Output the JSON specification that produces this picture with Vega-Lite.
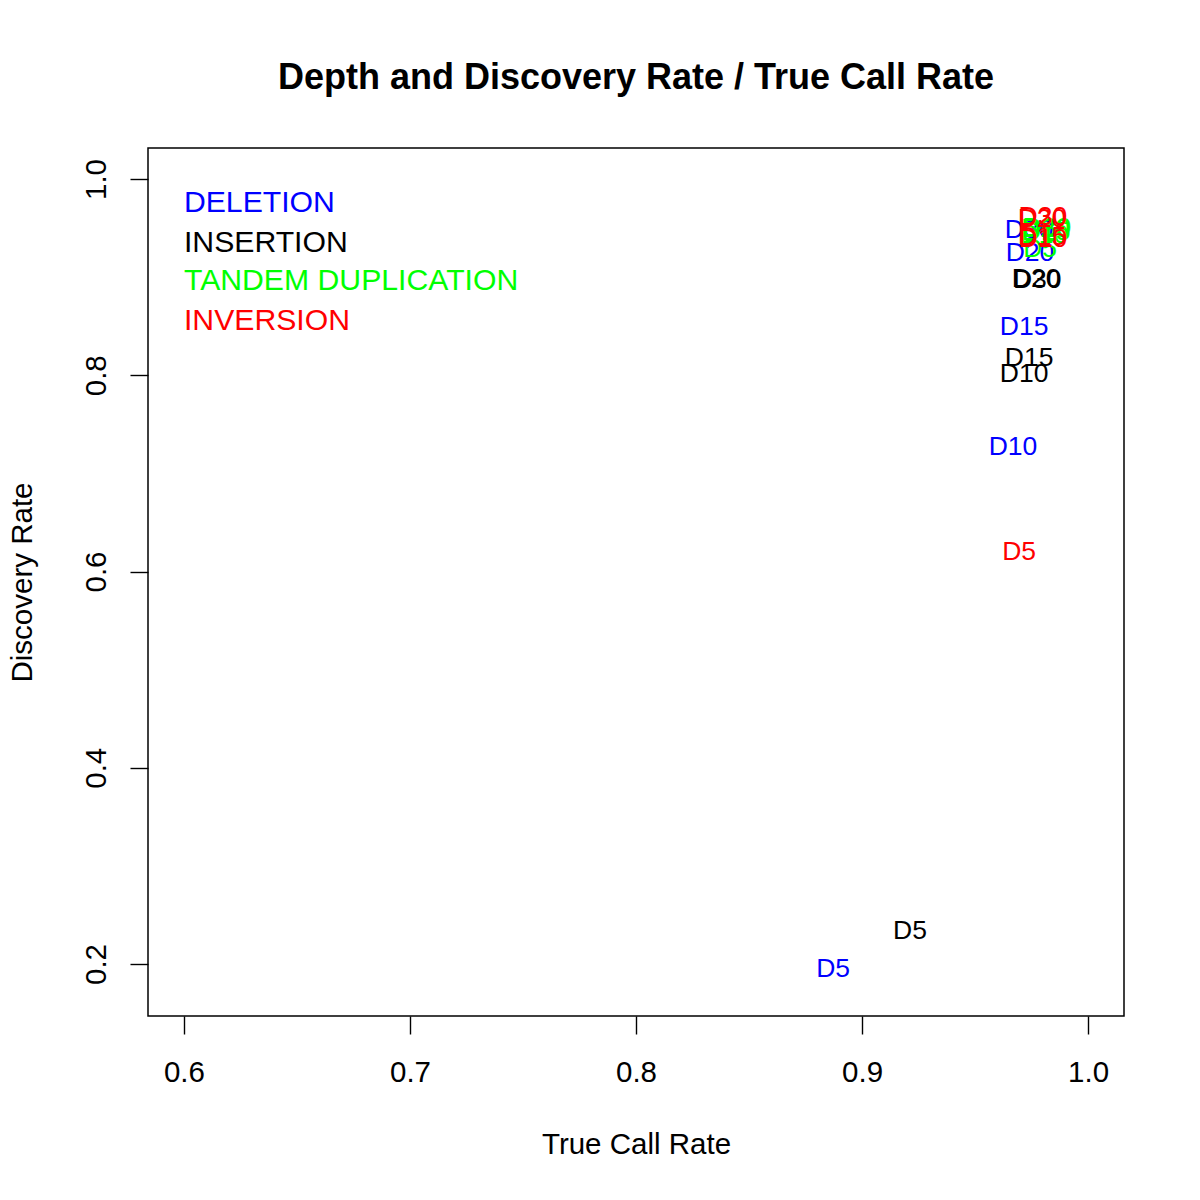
{
  "$schema": "https://vega.github.io/schema/vega-lite/v6.json",
  "width": 976,
  "height": 868,
  "autosize": {"type": "none"},
  "padding": {"left": 148, "top": 148, "right": 76, "bottom": 184},
  "background": "white",
  "title": {
    "text": "Depth and Discovery Rate / True Call Rate",
    "font": "Liberation Sans",
    "fontSize": 36,
    "fontWeight": "bold",
    "color": "black",
    "anchor": "middle",
    "offset": 51
  },
  "config": {
    "view": {"stroke": "black", "strokeWidth": 1.5},
    "axis": {
      "domain": false,
      "grid": false,
      "ticks": true,
      "tickSize": 18,
      "tickColor": "black",
      "tickWidth": 1.4,
      "labelFont": "Liberation Sans",
      "labelFontSize": 29.5,
      "labelColor": "black",
      "titleFont": "Liberation Sans",
      "titleFontSize": 29.5,
      "titleFontWeight": "normal",
      "titleColor": "black"
    }
  },
  "datasets": {
    "points": [
      {"type": "DELETION", "label": "D5", "tcr": 0.8872, "dr": 0.1969},
      {"type": "DELETION", "label": "D10", "tcr": 0.9668, "dr": 0.7289},
      {"type": "DELETION", "label": "D15", "tcr": 0.9717, "dr": 0.8512},
      {"type": "DELETION", "label": "D20", "tcr": 0.9743, "dr": 0.9266},
      {"type": "DELETION", "label": "D30", "tcr": 0.9739, "dr": 0.95},
      {"type": "INSERTION", "label": "D5", "tcr": 0.9212, "dr": 0.2357},
      {"type": "INSERTION", "label": "D10", "tcr": 0.9717, "dr": 0.8033},
      {"type": "INSERTION", "label": "D15", "tcr": 0.9739, "dr": 0.8196},
      {"type": "INSERTION", "label": "D20", "tcr": 0.977, "dr": 0.9001},
      {"type": "INSERTION", "label": "D30", "tcr": 0.9775, "dr": 0.899},
      {"type": "TANDEM DUPLICATION", "label": "D5", "tcr": 0.9788, "dr": 0.9307},
      {"type": "TANDEM DUPLICATION", "label": "D10", "tcr": 0.9805, "dr": 0.945},
      {"type": "TANDEM DUPLICATION", "label": "D15", "tcr": 0.9815, "dr": 0.948},
      {"type": "TANDEM DUPLICATION", "label": "D20", "tcr": 0.9812, "dr": 0.951},
      {"type": "TANDEM DUPLICATION", "label": "D30", "tcr": 0.9818, "dr": 0.952},
      {"type": "INVERSION", "label": "D5", "tcr": 0.9695, "dr": 0.6219},
      {"type": "INVERSION", "label": "D10", "tcr": 0.98, "dr": 0.9405},
      {"type": "INVERSION", "label": "D15", "tcr": 0.9796, "dr": 0.9425},
      {"type": "INVERSION", "label": "D20", "tcr": 0.9796, "dr": 0.9615},
      {"type": "INVERSION", "label": "D30", "tcr": 0.98, "dr": 0.9635}
    ],
    "legend": [
      {"type": "DELETION", "tcr": 0.6, "dr": 0.9776},
      {"type": "INSERTION", "tcr": 0.6, "dr": 0.9368},
      {"type": "TANDEM DUPLICATION", "tcr": 0.6, "dr": 0.8981},
      {"type": "INVERSION", "tcr": 0.6, "dr": 0.8573}
    ]
  },
  "encoding": {
    "x": {
      "field": "tcr",
      "type": "quantitative",
      "scale": {"domain": [0.5841, 1.0159], "nice": false, "zero": false},
      "axis": {
        "title": "True Call Rate",
        "values": [0.6, 0.7, 0.8, 0.9, 1.0],
        "format": ".1f",
        "labelPadding": 24,
        "labelBaseline": "top",
        "titlePadding": 44
      }
    },
    "y": {
      "field": "dr",
      "type": "quantitative",
      "scale": {"domain": [0.147, 1.0316], "nice": false, "zero": false},
      "axis": {
        "title": "Discovery Rate",
        "values": [0.2, 0.4, 0.6, 0.8, 1.0],
        "format": ".1f",
        "labelAngle": -90,
        "labelAlign": "center",
        "labelBaseline": "alphabetic",
        "labelPadding": 25,
        "titlePadding": 44
      }
    },
    "color": {
      "field": "type",
      "type": "nominal",
      "scale": {
        "domain": ["DELETION", "INSERTION", "TANDEM DUPLICATION", "INVERSION"],
        "range": ["#0000FF", "#000000", "#00FF00", "#FF0000"]
      },
      "legend": null
    }
  },
  "layer": [
    {
      "data": {"name": "points"},
      "mark": {"type": "text", "font": "Liberation Sans", "fontSize": 26.5, "align": "center", "baseline": "middle", "dy": 2},
      "encoding": {"text": {"field": "label"}}
    },
    {
      "data": {"name": "legend"},
      "mark": {"type": "text", "font": "Liberation Sans", "fontSize": 30.2, "align": "left", "baseline": "middle", "dy": 2},
      "encoding": {"text": {"field": "type"}}
    }
  ]
}
